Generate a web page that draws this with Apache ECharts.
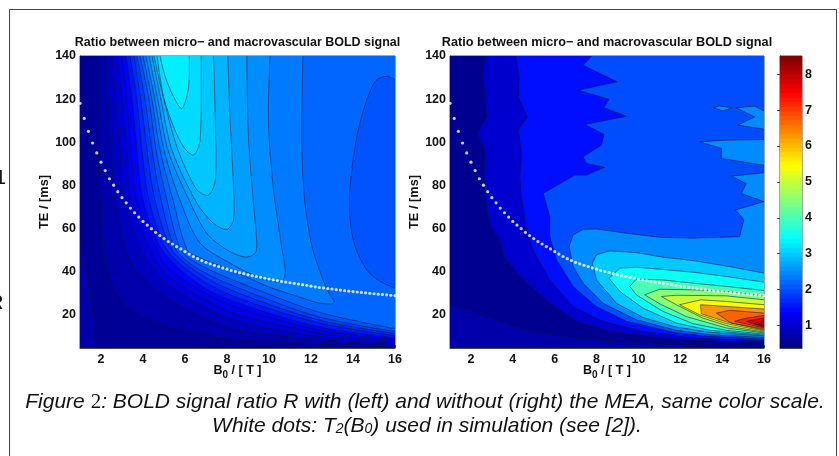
<!DOCTYPE html>
<html><head><meta charset="utf-8">
<style>html,body{margin:0;padding:0;background:#fff}#c{width:839px;height:456px}</style>
<script src="https://cdn.jsdelivr.net/npm/echarts@6/dist/echarts.min.js"></script>
</head><body><div id="c"></div>
<script>
// ---- shared ticks / text
const bTicks=[2,4,6,8,10,12,14,16];
const teTicks=[20,40,60,80,100,120,140];
const barTicks=[1,2,3,4,5,6,7,8];
const titleText='Ratio between micro\u2212 and macrovascular BOLD signal';
// ---- T2(B0) white dots
const dotB=[1,1.2,1.4,1.6,1.8,2,2.2,2.4,2.6,2.8,3,3.2,3.4,3.6,3.8,4,4.2,4.4,4.6,4.8,5,5.2,5.4,5.6,5.8,6,6.2,6.4,6.6,6.8,7,7.2,7.4,7.6,7.8,8,8.2,8.4,8.6,8.8,9,9.2,9.4,9.6,9.8,10,10.2,10.4,10.6,10.8,11,11.2,11.4,11.6,11.8,12,12.2,12.4,12.6,12.8,13,13.2,13.4,13.6,13.8,14,14.2,14.4,14.6,14.8,15,15.2,15.4,15.6,15.8,16];
const dotTE=[118,111,105,99.6,95,90.7,86.8,83,80,77,74.2,71.8,69.4,67.2,65.2,63.2,61.5,59.8,58.1,56.6,55.2,53.8,52.7,51.5,50.4,49.2,48,46.9,45.9,45,44.2,43.5,42.8,42.2,41.6,41,40.4,39.9,39.4,38.9,38.4,38,37.6,37.2,36.8,36.4,36,35.7,35.3,35,34.7,34.4,34.1,33.8,33.5,33.1,32.8,32.5,32.3,32,31.8,31.5,31.3,31,30.8,30.6,30.4,30.2,30,29.8,29.6,29.4,29.3,29.1,28.9,28.7];
// ---- left panel contours [B0, TE]
const lValley=[[1,54.6],[1.3,39],[1.57,23.7],[1.73,4.4]];
const l1=[[1.86,140],[1.86,119.5],[1.86,96.3],[1.95,73.1],[2.1,50],[2.48,34.7],[3.14,24.5],[3.9,19],[5.67,13],[8.52,8.3],[12.33,6.4],[16,4.5]];
const l2=[[2.24,140],[2.33,119.5],[2.48,96.3],[2.67,73.1],[3.19,50],[3.76,39.3],[5.05,28.2],[6.71,19.4],[8.52,12.9],[12.33,8.3],[16,5.5]];
const l3=[[2.52,140],[2.71,119.5],[2.9,96.3],[3.1,73.1],[3.9,50],[4.33,43],[5.05,34.7],[6.71,24.5],[8.52,16.6],[12.33,9.7],[16,6.4]];
const l4=[[2.76,140],[3,119.5],[3.19,96.3],[3.43,73.1],[4.33,50],[5.05,39.3],[6.71,28.2],[8.52,19.9],[12.33,11.5],[16,7.3]];
const l5=[[3,140],[3.24,119.5],[3.43,96.3],[3.71,73.1],[4.67,50],[5.05,43],[6.71,31.4],[8.52,23.1],[12.33,12.9],[16,8.3]];
const l6=[[3.19,140],[3.48,119.5],[3.71,96.3],[4,73.1],[4.9,50],[6.71,33.7],[8.52,25.4],[12.33,14.3],[16,9.2]];
const l7=[[3.38,140],[3.71,119.5],[3.95,96.3],[4.29,73.1],[5.14,50],[6.71,36.5],[8.52,27.7],[12.33,16.2],[16,10.1]];
const l8=[[3.57,140],[3.9,119.5],[4.19,96.3],[4.57,73.1],[5.38,50],[6.71,38.8],[8.52,30],[12.33,17.5],[16,11.1]];
const l9=[[3.71,140],[4.1,119.5],[4.43,96.3],[4.86,73.1],[5.57,50],[6.71,40.7],[8.52,32.4],[12.33,19],[16,12]];
const l10=[[3.86,140],[4.29,119.5],[4.62,96.3],[5.14,73.1],[5.81,50],[6.71,43],[8.52,35.1],[12.33,21.2],[16,13.4]];
const l11=[[4,140],[4.43,119.5],[4.81,96.3],[5.43,73.1],[6.1,50],[6.71,46.3],[8.38,39.8],[9.95,32.9],[11.57,27.7],[12.33,25.4],[12.9,24.9],[13.1,25.5],[13.05,27],[12.9,29],[12.52,37.4],[12.05,51.4],[11.71,71.7],[11.57,94.9],[11.57,118],[11.62,140]];
const l12=[[4.14,140],[4.57,119.5],[5,96.3],[5.76,73.1],[6.71,53.3],[8.29,43],[9.57,37],[10.37,35.1],[10.7,36.5],[10.77,40.7],[10.6,51.5],[10.2,79.3],[9.97,110.2],[10.05,140]];
const l13=[[4.29,140],[4.71,119.5],[5.19,96.3],[6.19,73.1],[7.04,57.7],[7.99,50],[8.86,46.6],[9.34,48.4],[9.42,53],[9.26,71.6],[9.02,102.5],[8.94,140]];
const l14=[[4.43,140],[4.86,119.5],[5.38,96.3],[6.57,71.6],[7.36,62.3],[7.99,59.5],[8.31,63.9],[8.31,79.3],[8.15,110.2],[8.04,140]];
const l15=[[4.52,140],[5,119.5],[5.67,96.3],[6.57,77.8],[7.12,75.4],[7.44,82.4],[7.44,110.2],[7.36,140]];
const l16=[[4.67,140],[4.98,121],[5.46,107],[5.93,97.8],[6.41,94],[6.72,101],[6.77,140]];
const l17=[[4.81,140],[5.06,130.3],[5.46,121],[5.85,115.6],[6.17,125.6],[6.2,140]];
const lTrough=[[16,129],[15.6,130.6],[15.1,128.7],[14.65,119.5],[14.18,102.5],[13.86,79.3],[13.86,63.9],[14.1,51.5],[14.65,40.7],[15.3,35.3],[16,32.2]];
const leftBase=0.55;
const leftBands=[
 [0.72,lValley,'bl'],[0.72,l1,'tr'],[0.89,l2,'tr'],[1.06,l3,'tr'],[1.23,l4,'tr'],[1.4,l5,'tr'],
 [1.56,l6,'tr'],[1.72,l7,'tr'],[1.88,l8,'tr'],[2.03,l9,'tr'],[2.2,l10,'tr'],[2.05,lTrough,'r'],
 [2.36,l11,'t'],[2.51,l12,'t'],[2.66,l13,'t'],[2.82,l14,'t'],[2.98,l15,'t'],[3.14,l16,'t'],[3.3,l17,'t']];
// ---- right panel contours [B0, TE]
const r0=[[1,24.5],[2.27,20.6],[3.86,15.2],[4.97,11.8],[7.04,9],[10.2,6.7],[13.4,4.4]];
const r1=[[2.67,140],[2.56,131.8],[2.75,111.7],[2.27,104],[2.67,96.3],[2.62,83.9],[2.72,71.6],[2.94,60.8],[3.38,54.6],[3.54,47.6],[4.34,37.6],[5.77,25.2],[7.04,16.8],[8.63,12.1],[11.81,8.3],[16,6.7]];
const r2=[[4.15,140],[4.31,130.3],[4.26,121],[4.7,111.7],[4.26,105.6],[4.42,94.7],[4.34,83.9],[4.39,76.2],[4.58,63.9],[4.74,56.1],[5.05,48.4],[5.77,36],[6.88,23.7],[8.31,16.8],[10.22,12.1],[12.61,9],[16,7.8]];
const r3=[[7.76,140],[7.36,135.7],[8.98,128],[7.12,124.1],[8.6,119.9],[8.35,116],[9.43,112],[7.44,108.2],[8.35,103.7],[8.23,98.6],[7.36,93.2],[7.52,90.1],[8.39,88.3],[7.52,84.7],[6.96,84.7],[6.41,81.6],[5.45,76.2],[5.77,65.4],[5.77,56.1],[6.09,45.3],[6.88,33],[7.99,23.7],[9.43,16.8],[11.81,11.4],[13.4,9.8],[16,8.6]];
const r4=[[16,72.4],[14.64,68.5],[15.04,63.9],[14.83,56.1],[12.61,55.4],[11.02,55.8],[9.43,57.7],[7.99,59.7],[7.36,59.5],[6.88,56.9],[6.69,51.5],[6.88,42.2],[7.36,34.5],[8.31,25.2],[9.9,17.5],[11.81,12.6],[13.4,10.6],[16,9.3]];
const r4a=[[16,85.8],[14.43,84.2],[15.15,80.8],[14.91,76.2],[16,72.4]];
const r4b=[[16,101.2],[14.2,100.9],[12.92,100.2],[13.96,97.1],[13.96,92.4],[16,89.3]];
const r4c=[[16,114.5],[15.55,116.7],[14.67,116],[15.55,111.7],[14.75,107.9],[16,106]];
const r4d=[[13.59,116],[13.88,116.8],[14.48,116],[14.04,114.5],[13.59,116]];
const r5=[[16,39.2],[14.35,42.2],[12.61,45],[11.17,46.6],[9.9,48.7],[8.63,49.5],[8,47.7],[7.8,43.8],[8,36],[8.95,25.2],[10.22,18.6],[11.81,14.1],[13.4,11.7],[16,10]];
const r6=[[16,35],[14.2,37.6],[12.61,39.6],[11.02,41],[9.9,41.9],[9.11,41.5],[8.6,36.8],[9.11,30.7],[10.22,22.9],[11.81,16],[13.4,12.6],[16,10.4]];
const r7=[[16,31.1],[14.2,33],[12.61,34.5],[11.17,36],[9.9,36.4],[9.59,33],[9.9,29.1],[11.17,21.4],[12.61,15.7],[14.2,12.6],[16,10.9]];
const r8=[[16,28.6],[14.2,30.7],[12.61,31.4],[11.02,31.7],[10.3,29.1],[11.02,24.9],[12.29,19],[14.2,13.7],[16,11.4]];
const r9=[[16,26.8],[14.2,28.6],[11.81,28.9],[11.1,28.3],[11.81,24.5],[13.08,18.3],[14.35,14.4],[16,11.8]];
const r10=[[16,24.5],[14.2,26],[13,26.8],[11.97,24.5],[12.92,19.8],[14.2,15.7],[16,12.3]];
const r11=[[16,22.5],[14.2,23.7],[12.97,24.5],[13,20.3],[14.28,16.3],[16,12.7]];
const r12=[[16,20.6],[14.35,21.9],[13.72,20.6],[14.43,16],[16,13.2]];
const r13=[[16,19.5],[15.15,18.3],[14.59,16.8],[16,13.7]];
const r14=[[16,18.3],[15.15,16.8],[16,14.1]];
const r15=[[16,17.5],[15.47,15.7],[16,14.6]];
const rightBase=0.5;
const rightBands=[
 [0.72,r0,'bl'],[1,r1,'tr'],[1.5,r2,'tr'],[2,r3,'tr'],[2.5,r4,'r'],[2.5,r4a,'r'],[2.5,r4b,'r'],[2.5,r4c,'r'],[2.5,r4d,''],
 [3,r5,'r'],[3.5,r6,'r'],[4,r7,'r'],[4.5,r8,'r'],[5,r9,'r'],[5.5,r10,'r'],[6.3,r11,'r'],[6.7,r12,'r'],[7.2,r13,'r'],[7.6,r14,'r'],[8.1,r15,'r']];
// ---- colour bar limits
const barMin=0.37, barMax=8.51;

function jet(v){
  const t=(v-barMin)/(barMax-barMin);
  const ch=x=>Math.round(255*Math.max(0,Math.min(1,1.5-Math.abs(4*t-x))));
  return 'rgb('+ch(3)+','+ch(2)+','+ch(1)+')';
}
function closure(kind,p){
  const a=p[0],z=p[p.length-1];
  if(kind==='tr')return [[17,z[1]],[17,150],[a[0],150]];
  if(kind==='t')return [[z[0],150],[a[0],150]];
  if(kind==='r')return [[17,z[1]],[17,a[1]]];
  if(kind==='bl')return [[z[0],0],[0,0],[0,a[1]]];
  return [];
}
function fillSeries(gi,base,bands,smooth){
  const items=[[null,base],...bands];
  return {type:'custom',xAxisIndex:gi,yAxisIndex:gi,coordinateSystem:'cartesian2d',clip:true,silent:true,z:2,
    data:items.map((_,i)=>[i]),encode:{x:0},
    renderItem:(p,api)=>{
      const b=items[api.value(0)];
      if(b[0]===null){
        const q=[[0,0],[17,0],[17,150],[0,150]].map(api.coord);
        return {type:'polygon',shape:{points:q},style:{fill:jet(b[1])}};
      }
      const q=b[1].concat(closure(b[2],b[1])).map(api.coord);
      return {type:'polygon',shape:{points:q,smooth:smooth},style:{fill:jet(b[0])}};
    }};
}
function lineSeries(gi,bands,smooth){
  return {type:'custom',xAxisIndex:gi,yAxisIndex:gi,coordinateSystem:'cartesian2d',clip:true,silent:true,z:3,
    data:bands.map((_,i)=>[i]),encode:{x:0},
    renderItem:(p,api)=>({type:'polyline',shape:{points:bands[api.value(0)][1].map(api.coord),smooth:smooth},
      style:{fill:null,stroke:'rgba(10,20,50,0.7)',lineWidth:0.8}})};
}
function dots(gi){
  return {type:'scatter',xAxisIndex:gi,yAxisIndex:gi,symbolSize:3.2,z:4,silent:true,clip:false,
    itemStyle:{color:'#fff'},data:dotB.map((b,i)=>[b,dotTE[i]])};
}
const tickFont={fontFamily:'Liberation Sans',fontWeight:'bold',fontSize:12.5,color:'#111'};
const lineCol='#4a4a4a';
function xAxes(gi){return [
 {gridIndex:gi,type:'value',min:1,max:16,position:'bottom',splitLine:{show:false},
  axisLine:{lineStyle:{color:lineCol}},axisTick:{inside:true,length:3,customValues:bTicks,lineStyle:{color:lineCol}},
  axisLabel:{...tickFont,margin:5,customValues:bTicks,showMinLabel:true,showMaxLabel:true},
  name:'B{s|0} / [ T ]',nameLocation:'middle',nameGap:14,nameMoveOverlap:false,
  nameTextStyle:{...tickFont,rich:{s:{...tickFont,fontSize:10,verticalAlign:'bottom',padding:[8,0,0,0]}}}}];}
function yAxes(gi){return [
 {gridIndex:gi,type:'value',min:4.4,max:140,position:'left',splitLine:{show:false},
  axisLine:{lineStyle:{color:lineCol}},axisTick:{inside:true,length:3,customValues:teTicks,lineStyle:{color:lineCol}},
  axisLabel:{...tickFont,margin:4,customValues:teTicks},
  name:'TE / [ms]',nameLocation:'middle',nameGap:29,nameRotate:90,nameMoveOverlap:false,nameTextStyle:{...tickFont,fontSize:12.8}}];}
const grids=[
 {left:80,top:56,width:315,height:292},
 {left:450,top:56,width:314,height:292},
 {left:780,top:56,width:22,height:292}];
const barSteps=[];for(let i=0;i<64;i++)barSteps.push(i);
const option={
 animation:false,backgroundColor:'#fff',
 grid:grids.map(g=>({...g,show:true,borderColor:lineCol,borderWidth:1,backgroundColor:'transparent',containLabel:false})),
 xAxis:[...xAxes(0),...xAxes(1),
  {gridIndex:2,type:'value',min:0,max:1,axisLabel:{show:false},axisTick:{show:false},splitLine:{show:false},axisLine:{lineStyle:{color:lineCol}}}],
 yAxis:[...yAxes(0),...yAxes(1),
  {gridIndex:2,type:'value',min:barMin,max:barMax,position:'right',splitLine:{show:false},
   axisLine:{lineStyle:{color:lineCol}},axisTick:{inside:true,length:3,customValues:barTicks,lineStyle:{color:lineCol}},
   axisLabel:{...tickFont,margin:3,customValues:barTicks}}],
 title:[
  {text:titleText,left:232.5,top:31,textAlign:'center',textStyle:{fontFamily:'Liberation Sans',fontWeight:'bold',fontSize:12.5,color:'#111'}},
  {text:titleText,left:602,top:31,textAlign:'center',textStyle:{fontFamily:'Liberation Sans',fontWeight:'bold',fontSize:12.7,color:'#111'}},
  {text:'Figure {n|2}: BOLD signal ratio R with (left) and without (right) the MEA, same color scale.',left:420,top:386.5,textAlign:'center',
   textStyle:{fontFamily:'Liberation Sans',fontStyle:'italic',fontWeight:'normal',fontSize:21,color:'#111',rich:{n:{fontFamily:'Liberation Serif',fontStyle:'normal',fontWeight:'normal',fontSize:21,color:'#111'}}}},
  {text:'White dots: T{s|2}(B{s|0}) used in simulation (see [2]).',left:422,top:410.5,textAlign:'center',
   textStyle:{fontFamily:'Liberation Sans',fontStyle:'italic',fontWeight:'normal',fontSize:21,color:'#111',rich:{s:{fontFamily:'Liberation Sans',fontStyle:'italic',fontWeight:'normal',fontSize:14,color:'#111',verticalAlign:'bottom',padding:[7,0,0,0]}}}}
 ],
 graphic:[
  {type:'polyline',silent:true,shape:{points:[[9.5,470],[9.5,9.5],[836.5,9.5],[836.5,470]]},style:{fill:null,stroke:'#444',lineWidth:1}},
  {type:'text',silent:true,x:-5,y:168,style:{text:'1',font:'20px Liberation Sans',fill:'#111'}},
  {type:'text',silent:true,x:-11,y:293,style:{text:'R',font:'20px Liberation Sans',fill:'#111'}}
 ],
 series:[
  fillSeries(0,leftBase,leftBands,0.3),lineSeries(0,leftBands,0.3),dots(0),
  fillSeries(1,rightBase,rightBands,0),lineSeries(1,rightBands,0),dots(1),
  {type:'custom',xAxisIndex:2,yAxisIndex:2,coordinateSystem:'cartesian2d',silent:true,clip:true,z:2,
   data:barSteps.map(i=>[i]),encode:{x:0},
   renderItem:(p,api)=>{
     const i=api.value(0),h=(barMax-barMin)/64,v0=barMin+i*h;
     const a=api.coord([0,v0+h]),b=api.coord([1,v0]);
     return {type:'rect',shape:{x:a[0],y:a[1]-0.5,width:b[0]-a[0],height:b[1]-a[1]+1},style:{fill:jet(v0+h/2)}};
   }}
 ]
};
echarts.init(document.getElementById('c'),null,{renderer:'canvas'}).setOption(option);
</script></body></html>
